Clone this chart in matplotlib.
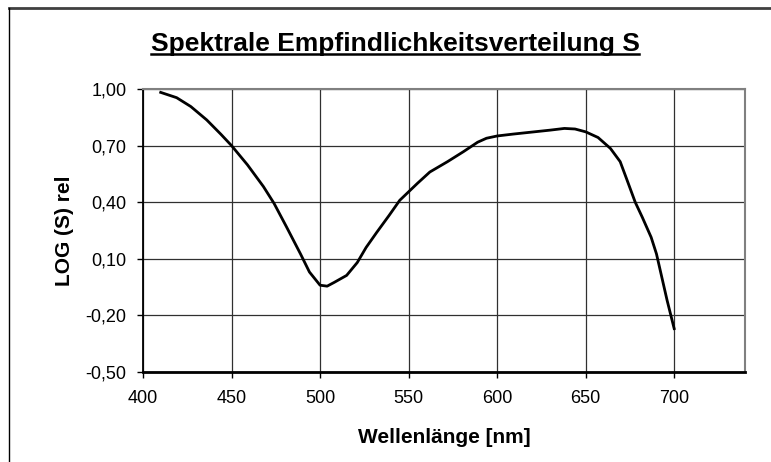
import numpy as np
import matplotlib.pyplot as plt
from matplotlib.lines import Line2D
from matplotlib.ticker import FuncFormatter

# data
wavelength = [410, 419, 427, 436, 444, 450, 459, 468, 474, 481, 489, 494, 500, 504,
              508, 515, 521, 526, 532, 539, 545, 550, 555, 562, 572, 581, 589, 594,
              600, 609, 621, 630, 638, 644, 650, 657, 664, 669.5, 673, 678, 682, 687,
              690, 693, 696, 700]
log_s = [0.982, 0.954, 0.907, 0.836, 0.76, 0.70, 0.598, 0.483, 0.394, 0.27, 0.125, 0.03,
         -0.04, -0.045, -0.025, 0.012, 0.08, 0.16, 0.24, 0.33, 0.41, 0.455, 0.50, 0.56,
         0.615, 0.668, 0.718, 0.739, 0.751, 0.761, 0.773, 0.782, 0.791, 0.788, 0.773,
         0.743, 0.685, 0.615, 0.527, 0.40, 0.32, 0.214, 0.126, 0.003, -0.12, -0.27]

x_ticks = [400, 450, 500, 550, 600, 650, 700]
y_ticks = [-0.5, -0.2, 0.1, 0.4, 0.7, 1.0]

title = "Spektrale Empfindlichkeitsverteilung S"
x_label = "Wellenlänge [nm]"
y_label = "LOG (S) rel"


def comma_fmt(v, pos):
	return f"{v:.2f}".replace(".", ",")


def main():
	plt.rcParams.update({'font.family': 'Liberation Sans', 'font.size': 13})

	W, H = 771, 462
	fig = plt.figure(figsize=(W / 100, H / 100), dpi=100)
	ax = fig.add_axes([143 / W, 1 - 372 / H, (745 - 143) / W, (372 - 89) / H])

	ax.plot(wavelength, log_s, color='black', linewidth=2)

	ax.set_xlim(400, 740)
	ax.set_ylim(-0.5, 1.0)
	ax.set_xticks(x_ticks)
	ax.set_yticks(y_ticks)
	ax.yaxis.set_major_formatter(FuncFormatter(comma_fmt))
	ax.grid(True, color='#303030', linewidth=0.9)
	ax.set_axisbelow(True)
	ax.tick_params(direction='out', length=4, width=1, color='black')
	ax.tick_params(axis='x', pad=9)
	ax.tick_params(axis='y', pad=8)

	ax.spines['bottom'].set_linewidth(2)
	ax.spines['left'].set_linewidth(1.3)
	for s in ['top', 'right']:
		ax.spines[s].set_color('#808080')
		ax.spines[s].set_linewidth(1.5)

	ax.set_xlabel(x_label, fontsize=15, fontweight='bold', labelpad=15)
	ax.set_ylabel(y_label, fontsize=15, fontweight='bold', labelpad=8)

	# title with underline
	t = fig.text(395 / W, 1 - 51 / H, title, ha='center', va='baseline',
				 fontsize=19, fontweight='bold')
	fig.canvas.draw()
	bb = t.get_window_extent()
	uy = 1 - 54 / H
	fig.add_artist(Line2D([bb.x0 / W, bb.x1 / W], [uy, uy], transform=fig.transFigure,
						  color='black', linewidth=1.8))

	# outer chart frame (cut at the right and bottom edges)
	fig.add_artist(Line2D([8.5 / W, 1], [1 - 7.5 / H, 1 - 7.5 / H], transform=fig.transFigure,
						  color='#404040', linewidth=2))
	fig.add_artist(Line2D([8.5 / W, 8.5 / W], [0, 1 - 7.5 / H], transform=fig.transFigure,
						  color='black', linewidth=1))

	fig.savefig("out.png", dpi=100)


if __name__ == '__main__':
	main()
